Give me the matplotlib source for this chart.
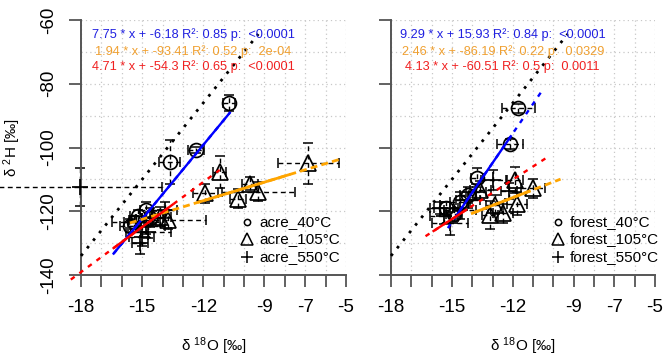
import numpy as np
import matplotlib
matplotlib.use('Agg')
from matplotlib import pyplot as plt

plt.rcParams['font.family'] = ['Liberation Sans', 'DejaVu Sans']
plt.rcParams['mathtext.fontset'] = 'custom'
plt.rcParams['mathtext.rm'] = 'Liberation Sans'
plt.rcParams['mathtext.it'] = 'Liberation Sans'

# ---- acre (left panel) ----
acre40_x = [-10.75, -12.35, -13.65, -15.2, -14.8, -15.4, -14.6, -15.6]
acre40_y = [-86.0, -100.8, -104.5, -121.5, -119.5, -123.5, -122.0, -124.5]
acre40_xerr = [0.3, 0.4, 0.5, 0.4, 0.3, 0.5, 0.4, 0.5]
acre40_yerr = [2.5, 1.0, 7.0, 2.0, 2.5, 2.0, 3.0, 2.0]

acre105_x = [-6.85, -11.2, -11.9, -9.7, -9.3, -10.3, -13.75, -14.1]
acre105_y = [-105.0, -107.7, -114.4, -111.3, -113.9, -116.0, -122.7, -121.7]
acre105_xerr = [1.5, 0.3, 0.6, 0.4, 1.8, 0.4, 1.9, 0.5]
acre105_yerr = [6.5, 5.0, 3.0, 2.0, 3.0, 3.0, 3.0, 3.0]

acre550_x = [-18.05, -15.03, -15.1, -14.8, -15.3, -14.5, -13.9, -14.7]
acre550_y = [-112.5, -128.0, -130.0, -124.5, -123.5, -122.0, -119.5, -126.5]
acre550_xerr = [4.0, 0.6, 0.4, 0.9, 1.2, 0.5, 0.6, 1.1]
acre550_yerr = [6.0, 3.0, 3.5, 2.5, 2.0, 2.0, 2.5, 2.0]

# ---- forest (right panel) ----
forest40_x = [-11.73, -12.14, -13.78, -14.6, -14.2, -15.3, -14.9]
forest40_y = [-87.7, -98.9, -109.5, -117.0, -115.0, -119.0, -121.0]
forest40_xerr = [0.8, 0.65, 0.3, 0.5, 0.4, 0.6, 0.4]
forest40_yerr = [1.5, 1.5, 3.0, 3.0, 2.5, 2.0, 2.0]

forest105_x = [-11.9, -11.0, -11.8, -12.47, -13.12, -13.6, -12.9]
forest105_y = [-110.2, -112.8, -117.6, -120.7, -121.2, -113.4, -118.0]
forest105_xerr = [0.4, 0.6, 0.5, 0.5, 0.4, 0.5, 0.4]
forest105_yerr = [4.0, 3.0, 3.5, 3.0, 4.5, 3.0, 3.0]

forest550_x = [-15.1, -15.4, -14.6, -14.2, -13.8, -12.96, -12.2, -15.6]
forest550_y = [-123.8, -121.5, -119.5, -116.5, -114.0, -110.2, -113.5, -119.0]
forest550_xerr = [0.9, 0.7, 0.8, 0.6, 0.5, 0.6, 0.4, 0.5]
forest550_yerr = [3.5, 2.5, 3.0, 2.5, 2.5, 3.0, 2.5, 2.0]

# fits: slope, intercept, dashed range, solid range
acre_slopes = [7.75, 1.94, 4.71]
acre_intercepts = [-6.18, -93.41, -54.3]
acre_dash_ranges = [(-16.4, -10.7), (-15.6, -5.2), (-18.5, -11.2)]
acre_solid_ranges = [(-16.4, -10.7), (-12.2, -7.8), (-16.4, -13.5)]
acre_labels = ['7.75 * x + -6.18 R²: 0.85 p:  <0.0001',
               '1.94 * x + -93.41 R²: 0.52 p:  2e-04',
               '4.71 * x + -54.3 R²: 0.65 p:  <0.0001']

forest_slopes = [9.29, 2.46, 4.13]
forest_intercepts = [15.93, -86.19, -60.51]
forest_dash_ranges = [(-15.2, -10.6), (-14.0, -9.65), (-16.3, -10.4)]
forest_solid_ranges = [(-14.8, -12.1), (-14.0, -11.2), (-15.9, -14.3)]
forest_labels = ['9.29 * x + 15.93 R²: 0.84 p:  <0.0001',
                 '2.46 * x + -86.19 R²: 0.22 p:  0.0329',
                 '4.13 * x + -60.51 R²: 0.5 p:  0.0011']

fit_colors = ['#0000ff', '#ffa500', '#ff0000']
text_colors = ['#2020e0', '#f0a030', '#f02020']
fit_dashes = [(0, (2, 2.5)), (0, (2.5, 1.5)), (0, (2, 2.5))]

xticks = list(range(-18, -4))
xticklabels = ['-18', '', '', '-15', '', '', '-12', '', '', '-9', '', '-7', '', '-5']
yticks = [-140, -120, -100, -80, -60]

fig = plt.figure(figsize=(6.64, 3.6), dpi=100)
ax1 = fig.add_axes([81 / 664, 85 / 360, 265 / 664, 255 / 360])
ax2 = fig.add_axes([391 / 664, 85 / 360, 264 / 664, 255 / 360])

panels = [
    (ax1, 'acre',
     [(acre40_x, acre40_y, acre40_xerr, acre40_yerr),
      (acre105_x, acre105_y, acre105_xerr, acre105_yerr),
      (acre550_x, acre550_y, acre550_xerr, acre550_yerr)],
     acre_slopes, acre_intercepts, acre_dash_ranges, acre_solid_ranges, acre_labels,
     0.626, 0.672),
    (ax2, 'forest',
     [(forest40_x, forest40_y, forest40_xerr, forest40_yerr),
      (forest105_x, forest105_y, forest105_xerr, forest105_yerr),
      (forest550_x, forest550_y, forest550_xerr, forest550_yerr)],
     forest_slopes, forest_intercepts, forest_dash_ranges, forest_solid_ranges, forest_labels,
     0.632, 0.676),
]

markers = ['o', '^', '+']
msizes = [10, 11.5, 11.5]
leg_sizes = [4.5, 8.5, 9]
temps = ['40°C', '105°C', '550°C']

for ax, name, groups, slopes, inters, dranges, sranges, labels, lx, tx in panels:
    ax.set_xlim(-18, -5)
    ax.set_ylim(-140, -60)
    for v in xticks:
        ax.axvline(v, color='#c8c8c8', lw=0.9, ls=(0, (1, 2.5)), zorder=0)
    for h in range(-140, -59, 10):
        ax.axhline(h, color='#c8c8c8', lw=0.9, ls=(0, (1, 2.5)), zorder=0)

    for (x, y, xe, ye), m, ms in zip(groups, markers, msizes):
        eb = ax.errorbar(x, y, xerr=xe, yerr=ye, fmt='none', ecolor='black',
                         elinewidth=1.0, capsize=3.5, capthick=1.1, zorder=2)
        for c in eb[1]:
            c.set_clip_on(False)
        for b in eb[2]:
            b.set_linestyle((0, (3.5, 2.5)))
            b.set_clip_on(False)
        ax.plot(x, y, ls='none', marker=m, ms=ms, mfc='none', mec='black',
                mew=1.25, zorder=3, clip_on=False)

    for k in range(3):
        xd = np.array(dranges[k])
        ax.plot(xd, slopes[k] * xd + inters[k], color=fit_colors[k],
                lw=2.0 if k == 1 else 1.7, ls=fit_dashes[k], zorder=4, clip_on=False)
        xs = np.array(sranges[k])
        ax.plot(xs, slopes[k] * xs + inters[k], color=fit_colors[k],
                lw=2.0 if k == 1 else 1.7, ls='-', zorder=4, clip_on=False)

    gx = np.array([-18, -9.3])
    ax.plot(gx, 8 * gx + 10, color='black', lw=2.0, ls=(0, (1, 2.5)), zorder=5, clip_on=False)

    for k, yy in enumerate([-64.7, -69.9, -74.6]):
        ax.text(-12.5, yy, labels[k], color=text_colors[k], fontsize=9.2,
                ha='center', va='center', zorder=6)

    for k, yf in enumerate([0.208, 0.141, 0.071]):
        ax.plot([lx], [yf], transform=ax.transAxes, marker=markers[k], ms=leg_sizes[k],
                mfc='none', mec='black', mew=1.1, ls='none', clip_on=False)
        ax.text(tx, yf, f'{name}_{temps[k]}', transform=ax.transAxes,
                fontsize=11, ha='left', va='center')

    for s in ['top', 'right']:
        ax.spines[s].set_visible(False)
    for s in ['left', 'bottom']:
        ax.spines[s].set_color('#555555')
        ax.spines[s].set_linewidth(1.4)
    ax.set_xticks(xticks)
    ax.set_xticklabels(xticklabels)
    ax.set_yticks(yticks)
    ax.tick_params(direction='out', length=8.5, width=1.3, color='#555555',
                   labelsize=13.5, pad=9)
    ax.set_xlabel('δ $^{18}$O [‰]', fontsize=11, labelpad=14)

ax1.set_yticklabels([str(t) for t in yticks], rotation=90, va='center')
ax2.set_yticklabels([])
ax1.set_ylabel('δ $^{2}$H [‰]', fontsize=11, labelpad=12)

fig.savefig('out.png', dpi=100)
